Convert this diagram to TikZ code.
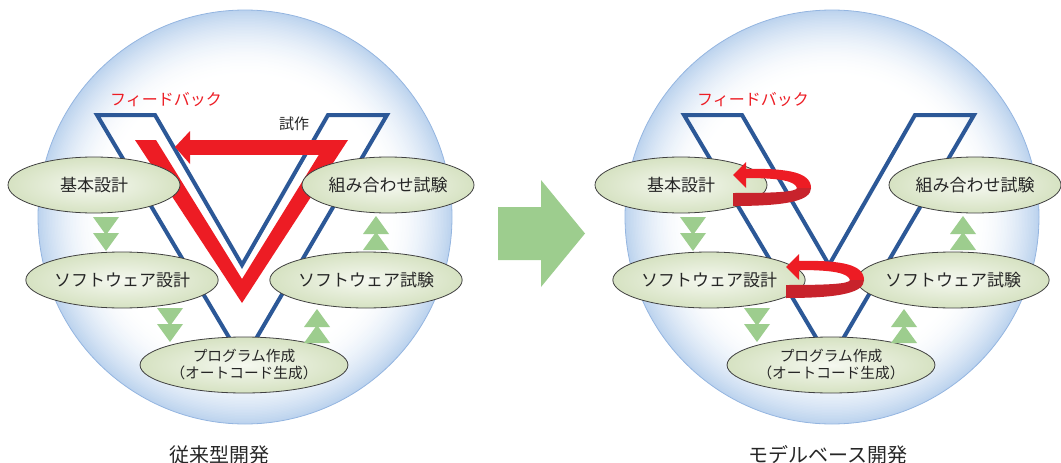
\documentclass[tikz,border=0pt]{standalone}
\usepackage{fontspec}
\newfontfamily\jpfont{Noto Sans CJK JP}
\usetikzlibrary{shapes.geometric}
\definecolor{vblue}{HTML}{2C5897}
\definecolor{vred}{HTML}{ED1C24}
\definecolor{vdred}{HTML}{C8232C}
\definecolor{vgreen}{HTML}{9DCD8E}
\definecolor{spEdge}{HTML}{BCD3EE}
\definecolor{spLine}{HTML}{94B5E0}
\definecolor{eggIn}{HTML}{F5F8F0}
\definecolor{eggOut}{HTML}{D6E2C2}
\tikzset{
  phase/.style={ellipse, draw=black!75, line width=0.8pt, inner color=eggIn, outer color=eggOut,
    minimum width=172, minimum height=56, inner sep=0pt, text=black!85,
    font=\jpfont\fontsize{17}{20}\selectfont},
  phasesmall/.style={phase, align=center, font=\jpfont\fontsize{14.7}{17}\selectfont},
  vline/.style={draw=vblue, line width=4pt, line join=miter},
  fbtext/.style={text=vred, font=\jpfont\fontsize{16}{18}\selectfont},
  captext/.style={text=black!85, font=\jpfont\fontsize{20}{22}\selectfont},
}
\newcommand\dntri[2]{%
  \fill[vgreen] (#1-13,#2) -- (#1+13,#2) -- (#1,#2+18) -- cycle;
  \fill[vgreen] (#1-13,#2+16) -- (#1+13,#2+16) -- (#1,#2+34) -- cycle;}
\newcommand\uptri[2]{%
  \fill[vgreen] (#1-13,#2) -- (#1+13,#2) -- (#1,#2-18) -- cycle;
  \fill[vgreen] (#1-13,#2-16) -- (#1+13,#2-16) -- (#1,#2-34) -- cycle;}
\newcommand\vmodel[2]{%
  \foreach \k in {0,...,45}{%
    \pgfmathsetmacro\rr{207-\k*1.5}%
    \pgfmathsetmacro\pc{100*(1-\k/45)^2}%
    \fill[spEdge!\pc!white] (245,217) circle (\rr);
  }
  \draw[spLine, line width=0.8pt] (245,217) circle (207);
  \draw[vline] (97,115) -- (155,115) -- (242,265) -- (328,115) -- (387,115) -- (243,361) -- cycle;
  #2
  \node[phase] (#1kihon) at (94,185) {基本設計};
  \node[phase] (#1kumi) at (388,185) {組み合わせ試験};
  \node[phase] (#1swd) at (122,280) {ソフトウェア設計};
  \node[phase] (#1swt) at (366,280) {ソフトウェア試験};
  \node[phasesmall] (#1prog) at (244,365) {プログラム作成\\（オートコード生成）};
  \dntri{106}{217}
  \dntri{170}{308}
  \uptri{317}{343}
  \uptri{376}{250}
  \node[fbtext] (#1fb) at (166,100) {フィードバック};
}
\newcommand\redloop{%
  \fill[vred] (733,175) -- (746,162) -- (746,169) .. controls (790,168) and (811,173) .. (811,188)
     -- (797,188) .. controls (795,181) and (780,178) .. (746,178) -- (746,188) -- cycle;
  \fill[vdred] (811,188) .. controls (811,200) and (790,206) .. (733,206) -- (733,193)
     .. controls (775,193) and (796,192) .. (797,188) -- cycle;
}
\begin{document}
\begin{tikzpicture}[x=1pt,y=-1pt]
\useasboundingbox (0,0) rectangle (1061,463);
% left: conventional
\vmodel{L}{%
  \fill[vred] (135,140) -- (242,303) -- (348,140) -- (328,140) -- (242,279) -- (156,140) -- cycle;
  \fill[vred] (189,140) rectangle (335,155);
  \fill[vred] (175,147) -- (190,131) -- (190,164) -- cycle;
}
\node[text=black!85, font=\jpfont\fontsize{15}{17}\selectfont] (shisaku) at (294,124) {試作};
\node[captext] (Lcap) at (219,455) {従来型開発};
% big arrow
\fill[vgreen] (498,207) -- (541,207) -- (541,180) -- (585,233.5) -- (541,287) -- (541,260) -- (498,260) -- cycle;
% right: model based
\begin{scope}[shift={(587,0)}]
\vmodel{R}{}
\end{scope}
\redloop
\begin{scope}[shift={(53,92)}]
\redloop
\end{scope}
\node[captext] (Rcap) at (828,455) {モデルベース開発};
\end{tikzpicture}
\end{document}
